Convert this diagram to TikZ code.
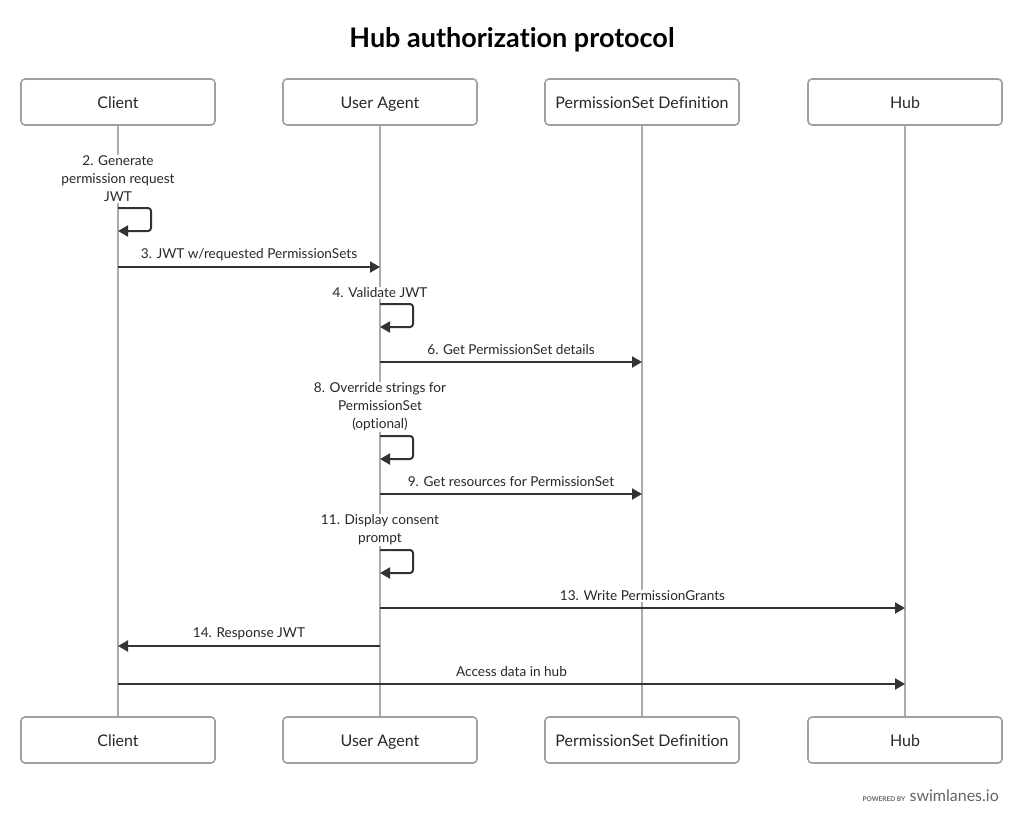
\documentclass[tikz,border=0pt]{standalone}
\usepackage{fontspec}
\setmainfont[Ligatures=NoCommon]{Lato}
\usetikzlibrary{arrows.meta}
\definecolor{linegray}{RGB}{172,172,172}
\definecolor{boxgray}{RGB}{160,160,160}
\definecolor{msgdark}{RGB}{51,51,51}
\definecolor{textdark}{RGB}{40,40,40}
\definecolor{footgray}{RGB}{100,100,100}

\begin{document}
\begin{tikzpicture}[
    x=1pt,y=-1pt,
    actor/.style={rectangle,rounded corners=4pt,draw=boxgray,line width=1.6pt,fill=white,
      minimum width=194pt,minimum height=46pt,text height=12pt,text depth=0pt,
      font=\fontsize{16}{18}\selectfont,text=textdark},
    lifeline/.style={draw=linegray,line width=2pt},
    msg/.style={-{Triangle[length=10pt,width=11pt]},draw=msgdark,line width=2pt},
    selfmsg/.style={msg,rounded corners=3pt},
    lbl/.style={fill=white,inner sep=1pt,font=\fontsize{13.6}{18}\selectfont,text=textdark,align=center}
  ]
    \useasboundingbox (0,0) rectangle (1024,825);
    \node[font=\bfseries\fontsize{27}{30}\selectfont,text=black] (title) at (512,40) {Hub authorization protocol};

    % participants
    \node[actor] (client) at (118,102) {Client};
    \node[actor] (agent) at (380,102) {User Agent};
    \node[actor] (psdef) at (642,102) {PermissionSet Definition};
    \node[actor] (hub) at (905,102) {Hub};
    \node[actor] (clientb) at (118,740) {Client};
    \node[actor] (agentb) at (380,740) {User Agent};
    \node[actor] (psdefb) at (642,740) {PermissionSet Definition};
    \node[actor] (hubb) at (905,740) {Hub};

    \draw[lifeline] (client) -- (clientb);
    \draw[lifeline] (agent) -- (agentb);
    \draw[lifeline] (psdef) -- (psdefb);
    \draw[lifeline] (hub) -- (hubb);

    % message rows
    \coordinate (r2) at (0,208);
    \coordinate (r2b) at (0,231);
    \coordinate (r3) at (0,267);
    \coordinate (r4) at (0,304);
    \coordinate (r4b) at (0,327);
    \coordinate (r6) at (0,362);
    \coordinate (r8) at (0,436);
    \coordinate (r8b) at (0,459);
    \coordinate (r9) at (0,494);
    \coordinate (r11) at (0,550);
    \coordinate (r11b) at (0,573);
    \coordinate (r13) at (0,608);
    \coordinate (r14) at (0,646);
    \coordinate (r15) at (0,684);

    \node[lbl] (l2) at (118,179) {2. Generate\\permission request\\JWT};
    \draw[selfmsg] (client |- r2) -- ++(33,0) -- ++(0,23) -- (client |- r2b);

    \draw[msg] (client |- r3) -- node[lbl,yshift=12pt] {3. JWT w/requested PermissionSets} (agent |- r3);

    \node[lbl] (l4) at (380,293) {4. Validate JWT};
    \draw[selfmsg] (agent |- r4) -- ++(33,0) -- ++(0,23) -- (agent |- r4b);

    \draw[msg] (agent |- r6) -- node[lbl,yshift=12pt] {6. Get PermissionSet details} (psdef |- r6);

    \node[lbl] (l8) at (380,407) {8. Override strings for\\PermissionSet\\(optional)};
    \draw[selfmsg] (agent |- r8) -- ++(33,0) -- ++(0,23) -- (agent |- r8b);

    \draw[msg] (agent |- r9) -- node[lbl,yshift=12pt] {9. Get resources for PermissionSet} (psdef |- r9);

    \node[lbl] (l11) at (380,530) {11. Display consent\\prompt};
    \draw[selfmsg] (agent |- r11) -- ++(33,0) -- ++(0,23) -- (agent |- r11b);

    \draw[msg] (agent |- r13) -- node[lbl,yshift=12pt] {13. Write PermissionGrants} (hub |- r13);
    \draw[msg] (agent |- r14) -- node[lbl,yshift=12pt] {14. Response JWT} (client |- r14);
    \draw[msg] (client |- r15) -- node[lbl,yshift=12pt] {Access data in hub} (hub |- r15);

    % footer
    \node[anchor=base east,inner sep=0pt,text=footgray,font=\fontsize{16}{18}\selectfont] (brand) at (999,801) {swimlanes.io};
    \node[anchor=base east,inner sep=0pt,text=footgray,font=\bfseries\fontsize{6.5}{8}\selectfont] (powered) at ([xshift=-4pt]brand.base west) {POWERED BY};
  \end{tikzpicture}
\end{document}
